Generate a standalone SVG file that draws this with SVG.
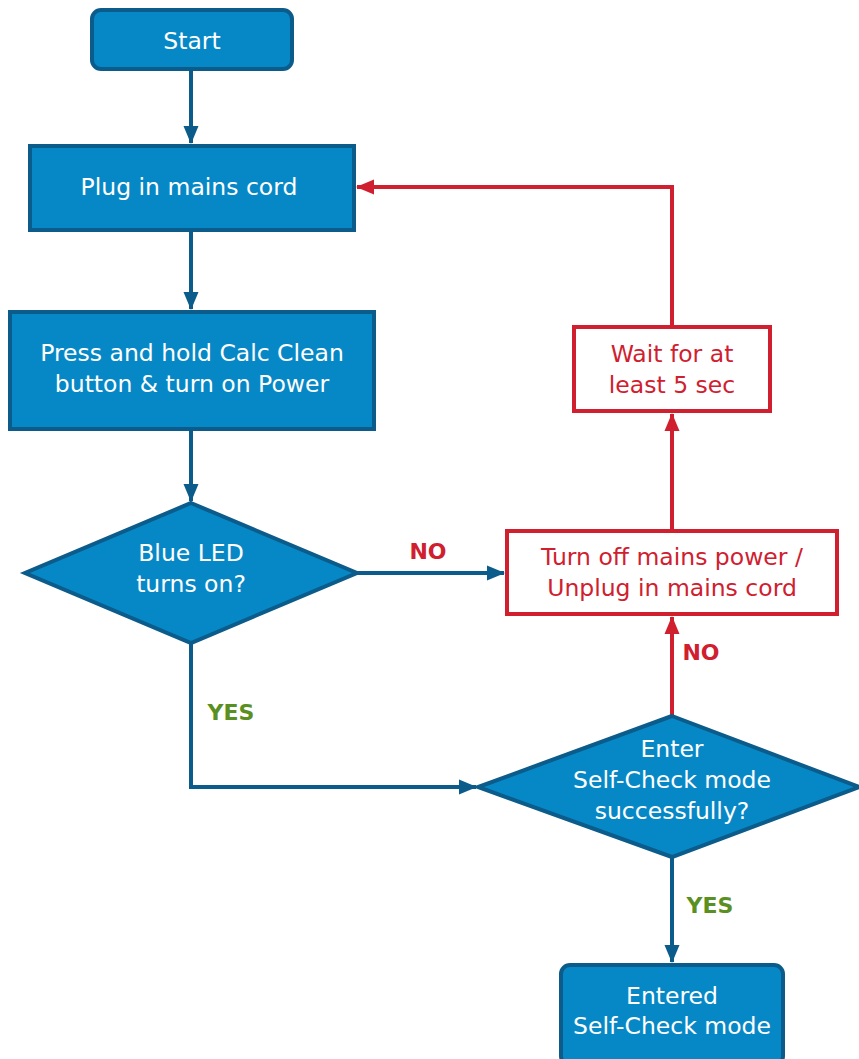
<svg xmlns="http://www.w3.org/2000/svg" width="859" height="1059" viewBox="0 0 859 1059">
<defs>
<style>
.bn{fill:#0788c6;stroke:#0b5b8b;stroke-width:4}
.rn{fill:#ffffff;stroke:#d0202f;stroke-width:4}
.wt{font-family:"DejaVu Sans","Noto Sans",sans-serif;font-size:23.5px;fill:#ffffff;text-anchor:middle}
.rt{font-family:"DejaVu Sans","Noto Sans",sans-serif;font-size:23.5px;fill:#d0202f;text-anchor:middle}
.lbl{font-family:"DejaVu Sans","Noto Sans",sans-serif;font-size:22px;font-weight:bold}
.bl{fill:none;stroke:#0b5b8b;stroke-width:4}
.rl{fill:none;stroke:#d0202f;stroke-width:4}
</style>
<marker id="ab" markerUnits="userSpaceOnUse" markerWidth="18" markerHeight="18" viewBox="0 0 18 18" refX="17" refY="9" orient="auto"><path d="M0,1.5 L18,9 L0,16.5 Z" fill="#0b5b8b"/></marker>
<marker id="ar" markerUnits="userSpaceOnUse" markerWidth="18" markerHeight="18" viewBox="0 0 18 18" refX="17" refY="9" orient="auto"><path d="M0,1.5 L18,9 L0,16.5 Z" fill="#d0202f"/></marker>
</defs>
<g id="connectors">
<path class="bl" d="M191,70 V143" marker-end="url(#ab)"/>
<path class="bl" d="M191,231 V309" marker-end="url(#ab)"/>
<path class="bl" d="M191,430 V501" marker-end="url(#ab)"/>
<path class="bl" d="M357,573 H504" marker-end="url(#ab)"/>
<path class="bl" d="M191,643 V787 H476" marker-end="url(#ab)"/>
<path class="bl" d="M672,857 V962" marker-end="url(#ab)"/>
<path class="rl" d="M672,716 V617" marker-end="url(#ar)"/>
<path class="rl" d="M672,530 V414" marker-end="url(#ar)"/>
<path class="rl" d="M672,326 V187 H357" marker-end="url(#ar)"/>
<text class="lbl" x="428" y="559" fill="#d0202f" text-anchor="middle">NO</text>
<text class="lbl" x="231" y="720" fill="#5a8f22" text-anchor="middle">YES</text>
<text class="lbl" x="701" y="660" fill="#d0202f" text-anchor="middle">NO</text>
<text class="lbl" x="710" y="913" fill="#5a8f22" text-anchor="middle">YES</text>
</g>
<g id="start">
<rect class="bn" x="92" y="10" width="200" height="59" rx="9"/>
<text class="wt" x="192" y="49">Start</text>
</g>
<g id="plug">
<rect class="bn" x="30" y="146" width="324" height="84"/>
<text class="wt" x="189" y="195">Plug in mains cord</text>
</g>
<g id="press">
<rect class="bn" x="10" y="312" width="364" height="117"/>
<text class="wt" x="192" y="361">Press and hold Calc Clean</text>
<text class="wt" x="192" y="392">button &amp; turn on Power</text>
</g>
<g id="blueled">
<polygon class="bn" points="191,503 357,573 191,643 25,573"/>
<text class="wt" x="191" y="561">Blue LED</text>
<text class="wt" x="191" y="592">turns on?</text>
</g>
<g id="turnoff">
<rect class="rn" x="507" y="531" width="330" height="83"/>
<text class="rt" x="672" y="565">Turn off mains power /</text>
<text class="rt" x="672" y="596">Unplug in mains cord</text>
</g>
<g id="wait">
<rect class="rn" x="574" y="327" width="196" height="84"/>
<text class="rt" x="672" y="362">Wait for at</text>
<text class="rt" x="672" y="393">least 5 sec</text>
</g>
<g id="selfcheck">
<polygon class="bn" points="672,716 859,787 672,857 478,787"/>
<text class="wt" x="672" y="757">Enter</text>
<text class="wt" x="672" y="788">Self-Check mode</text>
<text class="wt" x="672" y="819">successfully?</text>
</g>
<g id="entered">
<rect class="bn" x="561" y="965" width="222" height="100" rx="9"/>
<text class="wt" x="672" y="1004">Entered</text>
<text class="wt" x="672" y="1034">Self-Check mode</text>
</g>
</svg>
